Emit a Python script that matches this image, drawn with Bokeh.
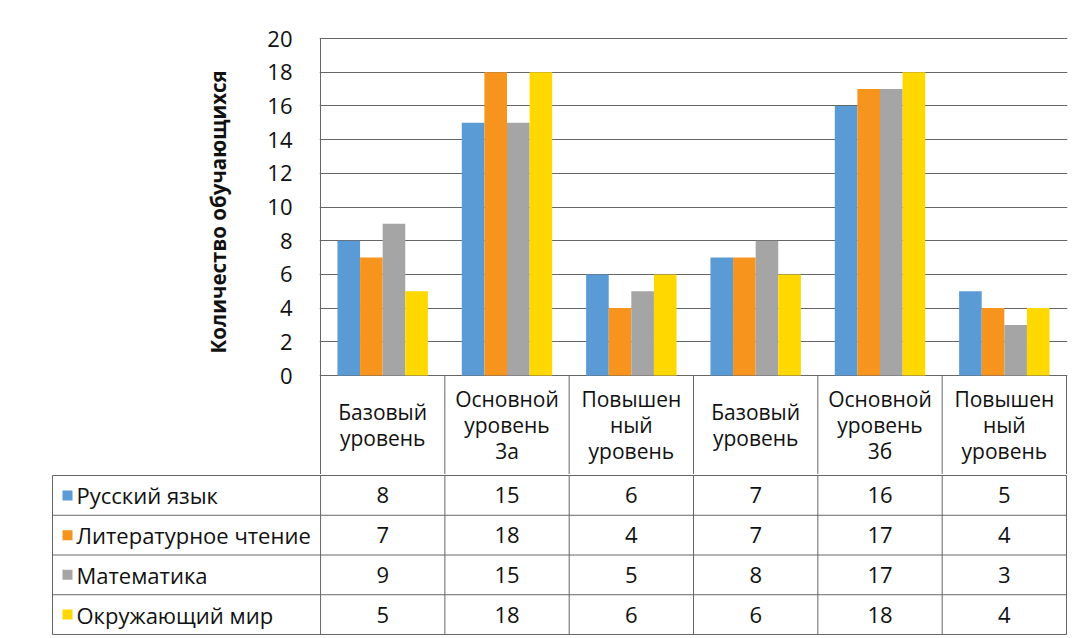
from bokeh.plotting import figure
from bokeh.layouts import column
from bokeh.models import ColumnDataSource, Range1d, FixedTicker, Title
from bokeh.transform import dodge
from bokeh.core.properties import value
from bokeh.embed import file_html
from bokeh.resources import INLINE

# ---------------- data ----------------
categories = ["Базовый\nуровень", "Основной\nуровень\n3а", "Повышен\nный\nуровень",
              "Базовый\nуровень", "Основной\nуровень\n3б", "Повышен\nный\nуровень"]
series_names = ["Русский язык", "Литературное чтение", "Математика", "Окружающий мир"]
russian = [8, 15, 6, 7, 16, 5]
literature = [7, 18, 4, 7, 17, 4]
mathematics = [9, 15, 5, 8, 17, 3]
world = [5, 18, 6, 6, 18, 4]
y_ticks = [0, 2, 4, 6, 8, 10, 12, 14, 16, 18, 20]
y_title = "Количество обучающихся"

series_values = [russian, literature, mathematics, world]
colors = ["#5B9BD5", "#F7941D", "#A5A5A5", "#FFD800"]

FONT = "Open Sans"
GRID = "#666666"
TEXT_COLOR = "#111111"
n = len(categories)
rows = len(series_names)

W = 1079
PX_UNIT = 124.3          # px per category column
Y_PX = 16.85             # px per y unit
HEADER_PX = 99
ROW_PX = 39.7
LEGEND_PX = 268

# ---------------- chart with category header row ----------------
pad_x = 1 / PX_UNIT
x_start, x_end = -pad_x, n + pad_x
y_top = y_ticks[-1] + 1 / Y_PX
y_bottom = -HEADER_PX / Y_PX

frame_w = round((x_end - x_start) * PX_UNIT)
frame_h = round((y_top - y_bottom) * Y_PX)
mb_right = 12
mb_left = W - mb_right - frame_w
mb_top = 37

p = figure(width=W, height=mb_top + frame_h,
           x_range=Range1d(x_start, x_end), y_range=Range1d(y_bottom, y_top),
           x_axis_location=None, toolbar_location=None, output_backend="svg",
           min_border_left=mb_left, min_border_right=mb_right,
           min_border_top=mb_top, min_border_bottom=0)
p.frame_align = False
p.outline_line_color = None

p.yaxis.ticker = FixedTicker(ticks=y_ticks)
p.yaxis.bounds = (y_ticks[0], y_ticks[-1])
p.yaxis.axis_line_color = None
p.yaxis.major_tick_line_color = None
p.yaxis.minor_tick_line_color = None
p.yaxis.major_label_text_font = FONT
p.yaxis.major_label_text_font_size = "22px"
p.yaxis.major_label_text_color = TEXT_COLOR
p.yaxis.major_label_standoff = 21

p.add_layout(Title(text=y_title, align="left", offset=121, standoff=66,
                   text_font=FONT, text_font_style="bold", text_font_size="20.5px",
                   text_color=TEXT_COLOR), "left")

p.ygrid.ticker = FixedTicker(ticks=y_ticks)
p.ygrid.grid_line_color = GRID
p.ygrid.grid_line_width = 1
p.xgrid.grid_line_color = None

centers = [i + 0.5 for i in range(n)]
data = dict(x=centers)
for j, vals in enumerate(series_values):
    data[f"s{j}"] = vals
src = ColumnDataSource(data)

bw = 1 / 5.5
for j in range(rows):
    p.vbar(x=dodge("x", (j - (rows - 1) / 2) * bw), top=f"s{j}", bottom=0, width=bw,
           source=src, fill_color=colors[j], line_color=None)

bx = list(range(n + 1))
p.segment(x0=bx, y0=[y_bottom] * (n + 1), x1=bx, y1=[y_ticks[-1]] + [0] * n,
          line_color=GRID, line_width=1)
p.text(x=centers, y=[y_bottom / 2] * n, text=categories,
       text_align="center", text_baseline="middle",
       text_font=value(FONT), text_font_size="21px", text_line_height=0.93,
       text_color=TEXT_COLOR)

# ---------------- data table rows ----------------
legend_left = -LEGEND_PX / PX_UNIT
qx_start = legend_left - 1 / PX_UNIT
q_frame_w = round((x_end - qx_start) * PX_UNIT)
q_mb_left = W - mb_right - q_frame_w
qy_top = -1 / ROW_PX
qy_bottom = rows + 1 / ROW_PX
q_frame_h = round((qy_bottom - qy_top) * ROW_PX)

q = figure(width=W, height=q_frame_h + 1,
           x_range=Range1d(qx_start, x_end), y_range=Range1d(qy_bottom, qy_top),
           x_axis_location=None, y_axis_location=None,
           toolbar_location=None, output_backend="svg",
           min_border_left=q_mb_left, min_border_right=mb_right,
           min_border_top=0, min_border_bottom=1)
q.frame_align = False
q.outline_line_color = None
q.xgrid.grid_line_color = None
q.ygrid.grid_line_color = None

hy = list(range(rows + 1))
q.segment(x0=[legend_left] * (rows + 1), y0=hy, x1=[n] * (rows + 1), y1=hy,
          line_color=GRID, line_width=1)
vx = [legend_left] + list(range(n + 1))
q.segment(x0=vx, y0=[0] * len(vx), x1=vx, y1=[rows] * len(vx),
          line_color=GRID, line_width=1)

row_y = [r + 0.5 for r in range(rows)]
q.scatter(x=[legend_left + 15 / PX_UNIT] * rows, y=row_y, marker="square", size=10,
          fill_color=colors, line_color=None)
q.text(x=[legend_left + 24 / PX_UNIT] * rows, y=row_y, text=series_names,
       text_align="left", text_baseline="middle",
       text_font=value(FONT), text_font_size="22px", text_color=TEXT_COLOR)
for r, vals in enumerate(series_values):
    q.text(x=centers, y=[row_y[r]] * n, text=[str(v) for v in vals],
           text_align="center", text_baseline="middle",
           text_font=value(FONT), text_font_size="22px", text_color=TEXT_COLOR)

layout = column(p, q, spacing=0)
open("out.html", "w").write(file_html(layout, INLINE))
